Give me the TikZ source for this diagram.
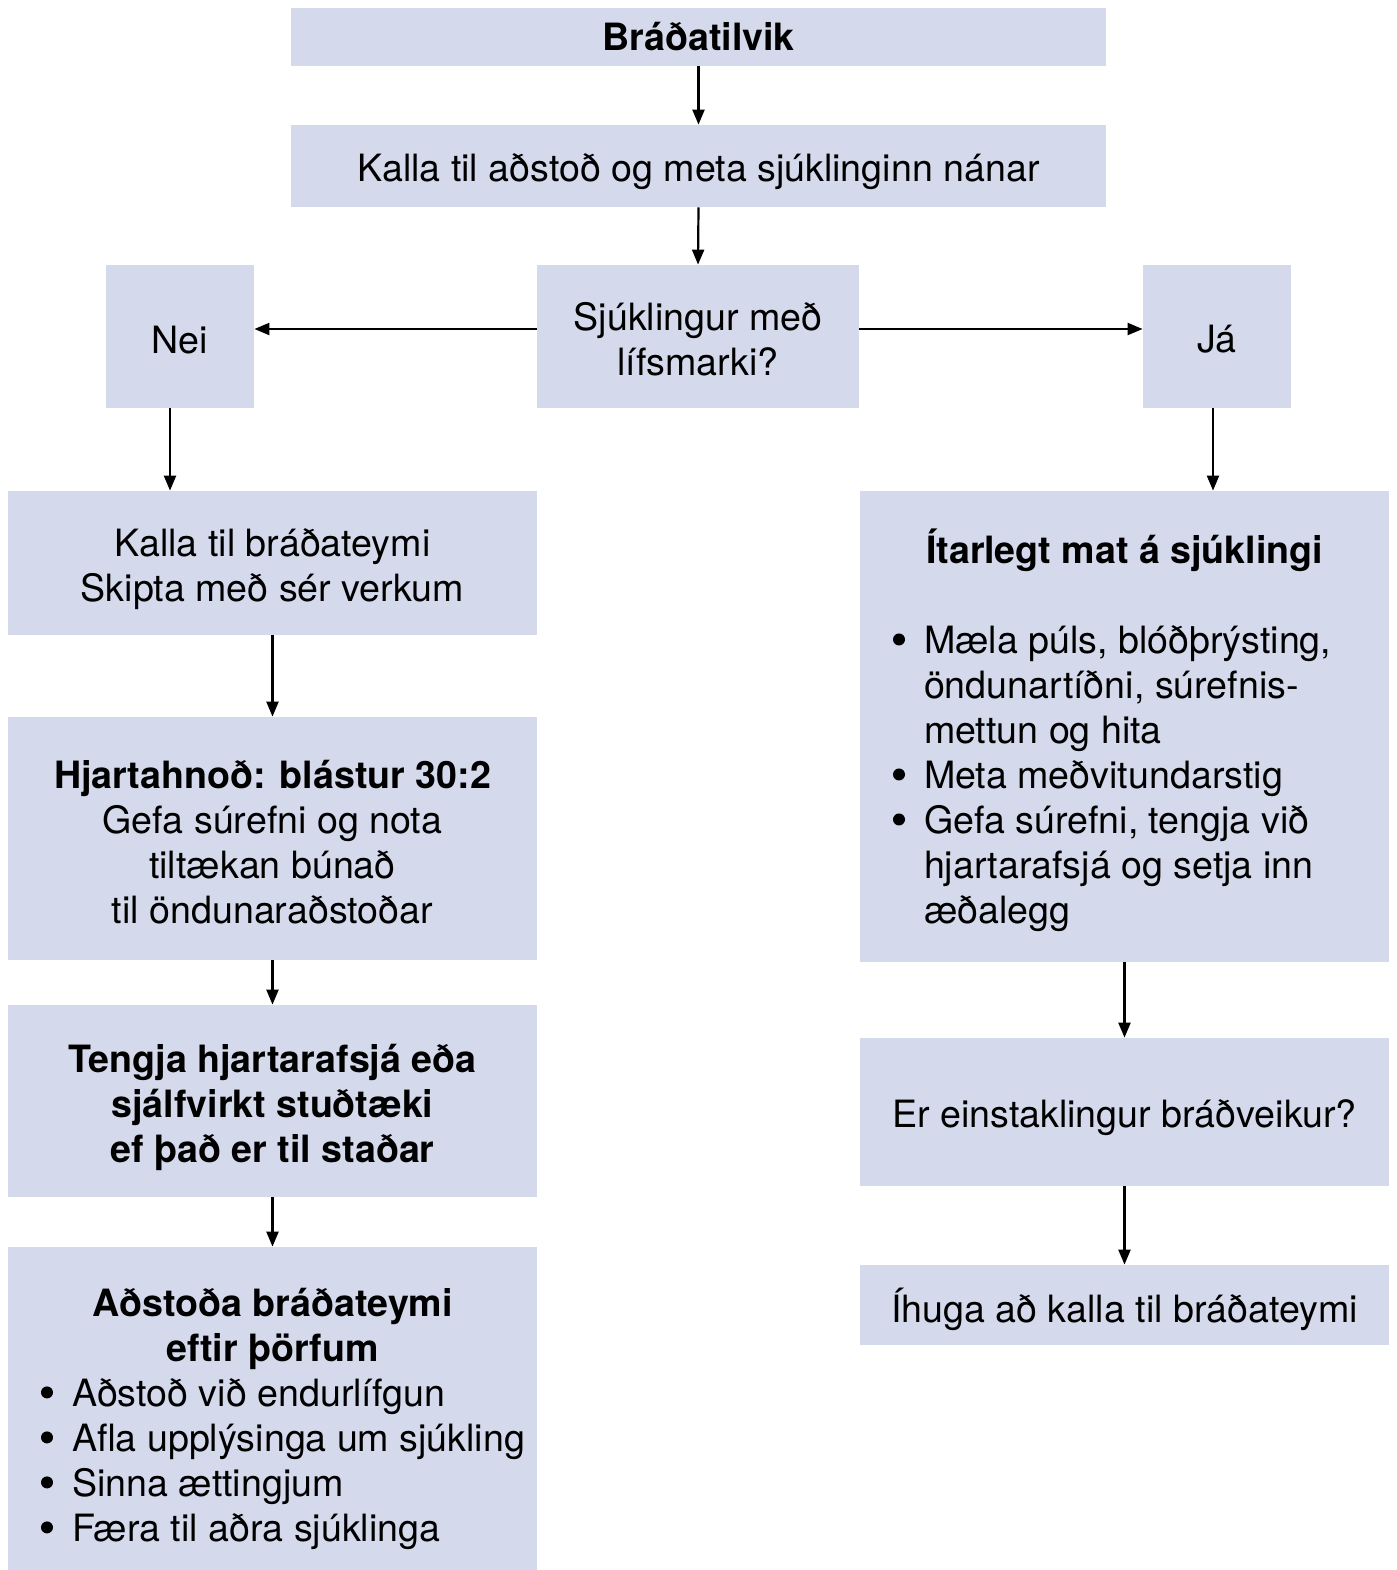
\documentclass[tikz,border=0pt]{standalone}
\usepackage{fontspec}
\setmainfont{TeX Gyre Heros}
\usetikzlibrary{arrows.meta, positioning}
\definecolor{boxfill}{RGB}{212,217,235}
% box text, with optional extra room on top to push the lines down
\newcommand\boxtext[2][0pt]{\raisebox{0pt}[\dimexpr\height+#1\relax]{\begin{tabular}{@{}c@{}}#2\end{tabular}}}
\newcommand\bitem{\makebox[15.5pt][l]{\tikz[baseline=-6.8pt]\fill (3pt,0pt) circle (3pt);}}
\newcommand\bcont{\hspace*{15.5pt}}
\newcommand\blist[1]{\makebox[231.5pt][l]{\begin{tabular}[t]{@{}l@{}}#1\end{tabular}}}

\begin{document}
\begin{tikzpicture}[x=0.5pt, y=-0.5pt,
  box/.style={fill=boxfill, inner sep=0pt,
    font=\fontsize{18.8}{22.5}\selectfont},
  arr/.style={-{Triangle[length=7.5pt, width=6pt]}, line width=1.1pt}]

  \useasboundingbox (0,0) rectangle (1397,1570);

  % top
  \node[box, minimum width=407.5pt, minimum height=29pt] (event) at (698.5,37) {\boxtext[4pt]{\textbf{Bráðatilvik}}};
  \node[box, minimum width=407.5pt, minimum height=41pt] (call) at (698.5,166) {\boxtext[6pt]{Kalla til aðstoð og meta sjúklinginn nánar}};
  \node[box, minimum width=161pt, minimum height=71.5pt] (vital) at (698,336.5) {\boxtext[7.5pt]{Sjúklingur með\\lífsmarki?}};
  \node[box, minimum width=74pt, minimum height=71.5pt] (no) at (180,336.5) {\boxtext[8pt]{Nei}};
  \node[box, minimum width=74pt, minimum height=71.5pt] (yes) at (1217,336.5) {\boxtext[7pt]{Já}};

  % left column
  \node[box, minimum width=264.5pt, minimum height=72pt] (team) at (272.5,563) {\boxtext[7pt]{Kalla til bráðateymi\\Skipta með sér verkum}};
  \node[box, minimum width=264.5pt, minimum height=121.5pt] (cpr) at (272.5,838.5) {\boxtext[8pt]{\textbf{Hjartahnoð: blástur 30:2}\\Gefa súrefni og nota\\tiltækan búnað\\til öndunaraðstoðar}};
  \node[box, minimum width=264.5pt, minimum height=96pt] (aed) at (272.5,1101) {\boxtext[7pt]{\textbf{Tengja hjartarafsjá eða}\\\textbf{sjálfvirkt stuðtæki}\\\textbf{ef það er til staðar}}};
  \node[box, minimum width=264.5pt, minimum height=161.5pt] (assist) at (272.5,1408.5) {\boxtext[11pt]{\textbf{Aðstoða bráðateymi}\\\textbf{eftir þörfum}\\\blist{\bitem Aðstoð við endurlífgun\\ \bitem Afla upplýsinga um sjúkling\\ \bitem Sinna ættingjum\\ \bitem Færa til aðra sjúklinga}}};

  % right column
  \node[box, minimum width=264.5pt, minimum height=235.5pt] (assess) at (1124.5,726.5) {\boxtext[6pt]{\textbf{Ítarlegt mat á sjúklingi}\\[22.5pt]\blist{\bitem Mæla púls, blóðþrýsting,\\ \bcont öndunartíðni, súrefnis-\\ \bcont mettun og hita\\ \bitem Meta meðvitundarstig\\ \bitem Gefa súrefni, tengja við\\ \bcont hjartarafsjá og setja inn\\ \bcont æðalegg}}};
  \node[box, minimum width=264.5pt, minimum height=74pt] (acute) at (1124.5,1112) {\boxtext[6pt]{Er einstaklingur bráðveikur?}};
  \node[box, minimum width=264.5pt, minimum height=40pt] (consider) at (1124.5,1305) {\boxtext[7pt]{Íhuga að kalla til bráðateymi}};

  % arrows
  \draw[arr] (event.south) -- (call.north);
  \draw[arr] (call.south) -- (vital.north);
  \draw[arr] ([yshift=3.75pt]vital.west) -- ([yshift=3.75pt]no.east);
  \draw[arr] ([yshift=3.75pt]vital.east) -- ([yshift=3.75pt]yes.west);
  \draw[arr] ([xshift=-5pt]no.south) -- ([xshift=-5pt]no.south |- team.north);
  \draw[arr] ([xshift=-2pt]yes.south) -- ([xshift=-2pt]yes.south |- assess.north);
  \draw[arr] (team.south) -- (cpr.north);
  \draw[arr] (cpr.south) -- (aed.north);
  \draw[arr] (aed.south) -- (assist.north);
  \draw[arr] (assess.south) -- (acute.north);
  \draw[arr] (acute.south) -- (consider.north);

\end{tikzpicture}
\end{document}
